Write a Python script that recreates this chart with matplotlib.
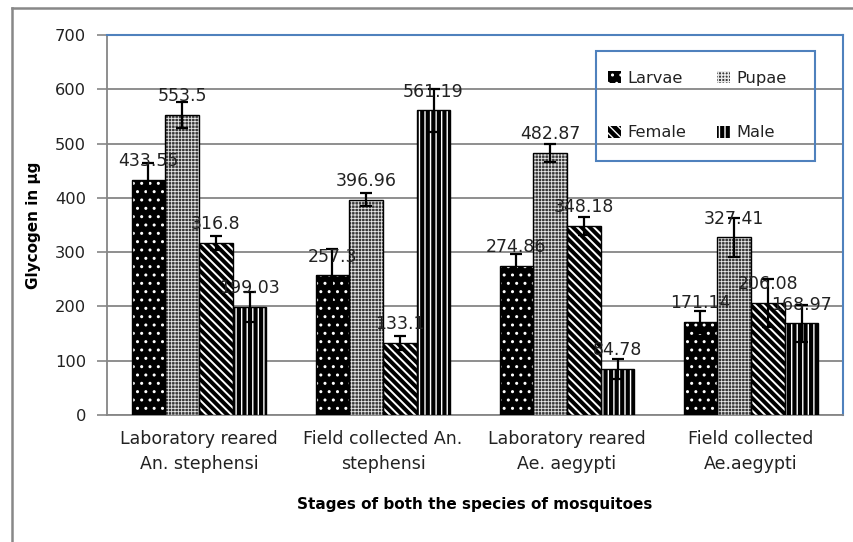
import matplotlib
matplotlib.use("Agg")
import matplotlib.pyplot as plt
import numpy as np
from matplotlib.lines import Line2D
from matplotlib.patches import Patch, Rectangle

plt.rcParams['font.family'] = ['DejaVu Sans']

categories = ["Laboratory reared\nAn. stephensi", "Field collected An.\nstephensi",
              "Laboratory reared\nAe. aegypti", "Field collected\nAe.aegypti"]
series = ["Larvae", "Pupae", "Female", "Male"]
larvae = [433.55, 257.3, 274.86, 171.14]
pupae = [553.5, 396.96, 482.87, 327.41]
female = [316.8, 133.1, 348.18, 206.08]
male = [199.03, 561.19, 84.78, 168.97]
larvae_err = [30, 49, 22, 21]
pupae_err = [24, 12.5, 16, 36]
female_err = [13, 13, 17, 44]
male_err = [27, 40, 18, 34]
yticks = [0, 100, 200, 300, 400, 500, 600, 700]

values = [larvae, pupae, female, male]
errors = [larvae_err, pupae_err, female_err, male_err]
styles = [
    dict(face='black', hatchc='white', hatch='..', hlw=1.0),
    dict(face='#383838', hatchc='#e8e8e8', hatch='+++++', hlw=0.6),
    dict(face='black', hatchc='white', hatch='\\\\\\\\', hlw=1.4),
    dict(face='black', hatchc='white', hatch='|||', hlw=1.0),
]

W, H = 854, 542
fig = plt.figure(figsize=(W/100, H/100), dpi=100)
ax = fig.add_axes([107/W, 1-415/H, (843-107)/W, (415-35)/H])

x = np.arange(len(categories))
bw = 0.183
handles = []
for j, (vals, errs, st) in enumerate(zip(values, errors, styles)):
    xs = x + (j - 1.5) * bw
    with plt.rc_context({'hatch.linewidth': st['hlw']}):
        ax.bar(xs, vals, bw, color=st['face'], edgecolor=st['hatchc'],
               hatch=st['hatch'], linewidth=0, zorder=3)
        handles.append(Patch(facecolor=st['face'], edgecolor=st['hatchc'],
                             hatch=st['hatch'], linewidth=0))
    ax.bar(xs, vals, bw, fill=False, edgecolor='black', linewidth=1.0, zorder=4)
    ax.errorbar(xs, vals, yerr=errs, fmt='none', ecolor='black', elinewidth=1.6,
                capsize=4, capthick=1.6, zorder=5)
    for xi, v in zip(xs, vals):
        ax.annotate(f"{v:g}", (xi, v), xytext=(0, 13.5), textcoords='offset points',
                    ha='center', va='center', fontsize=12.5, color='#222222', zorder=6)

ax.set_xlim(-0.5, 3.5)
ax.set_ylim(0, 700)
ax.set_yticks(yticks)
ax.set_xticks(x)
ax.set_xticklabels(categories, fontsize=12.5, color='#222222', linespacing=1.45)
ax.tick_params(axis='x', length=0, pad=11)
ax.tick_params(axis='y', length=7, color='#868686', width=1.2, labelsize=11.7,
               labelcolor='#222222', pad=8)
ax.yaxis.grid(True, color='#868686', linewidth=1.3, zorder=0)
ax.set_axisbelow(True)
for s in ['left', 'bottom']:
    ax.spines[s].set_color('#868686')
    ax.spines[s].set_linewidth(1.3)
for s in ['top', 'right']:
    ax.spines[s].set_color('#4F81BD')
    ax.spines[s].set_linewidth(1.5)

ax.set_ylabel("Glycogen in µg", fontsize=11, fontweight='bold')
ax.yaxis.set_label_coords(-0.1 + 0.011, 0.5)
fig.text(0.5 * (107 + 843) / W, 1 - 505/H, "Stages of both the species of mosquitoes",
         ha='center', va='center', fontsize=11, fontweight='bold')

# legend frame (transparent, gridlines show through)
fig.add_artist(Rectangle((596/W, 1-161/H), 219/W, 110/H, transform=fig.transFigure,
                         facecolor='none', edgecolor='#4F81BD', linewidth=1.5,
                         zorder=10))
order = [0, 2, 1, 3]
leg = fig.legend([handles[i] for i in order], [series[i] for i in order], ncol=2,
                 loc='center left', bbox_to_anchor=(608/W, 1-105.5/H),
                 fontsize=11.7, frameon=False, borderpad=0,
                 labelspacing=2.45, handlelength=0.8, handleheight=0.8,
                 handletextpad=0.4, columnspacing=1.9, borderaxespad=0)
leg.set_zorder(11)
for t in leg.get_texts():
    t.set_color('#222222')

fig.add_artist(Line2D([12/W, 12/W], [0, 1-8/H], color='#888888', lw=1.8))
fig.add_artist(Line2D([12/W, 1], [1-8/H, 1-8/H], color='#888888', lw=1.8))

fig.savefig("out.png", dpi=100)
